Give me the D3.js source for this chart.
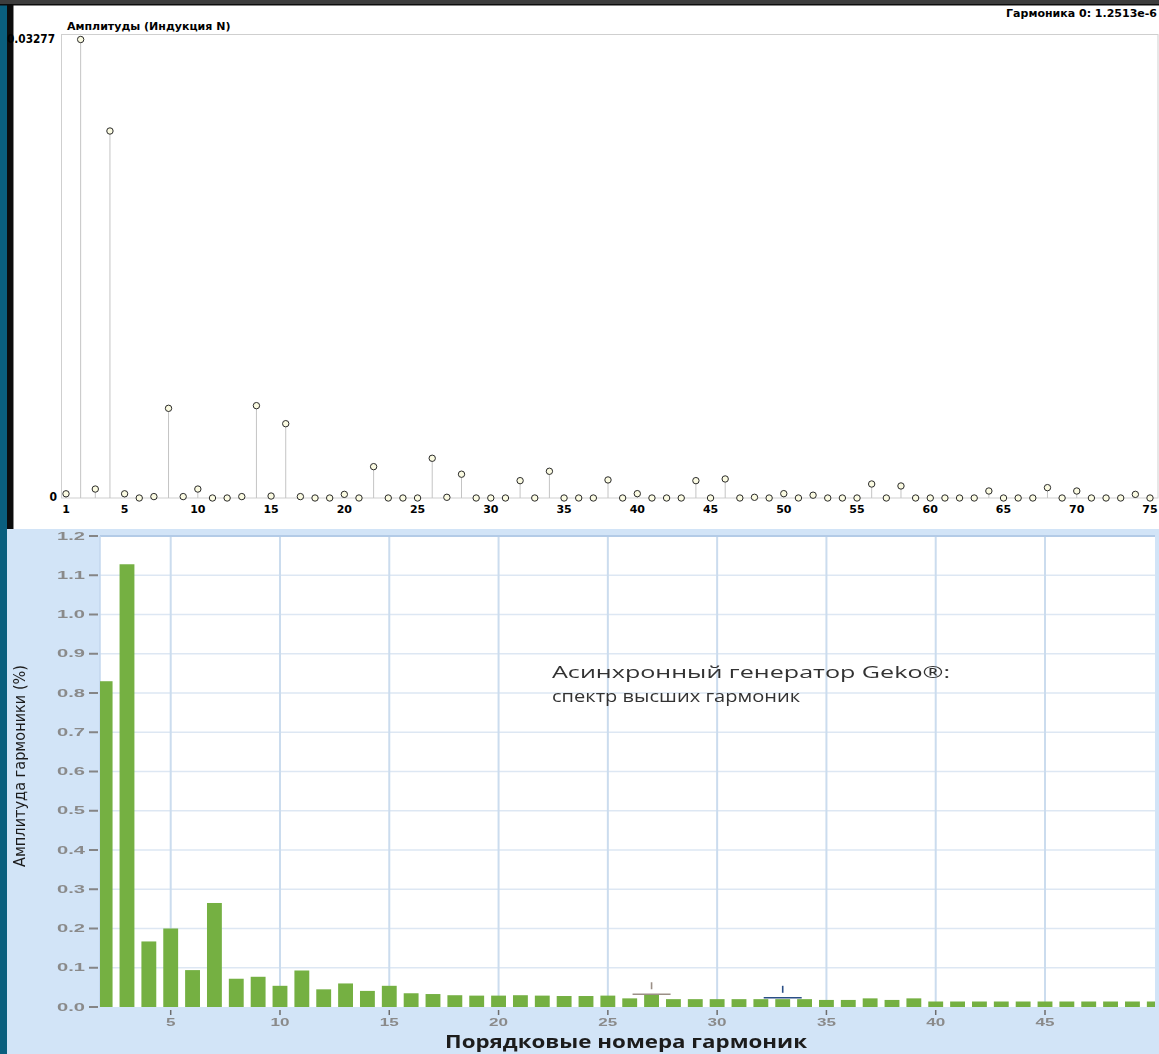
<!DOCTYPE html>
<html>
<head>
<meta charset="utf-8">
<script src="https://cdn.jsdelivr.net/npm/d3@7"></script>
<style>
  html, body { margin: 0; padding: 0; background: #ffffff; }
  svg { display: block; }
</style>
</head>
<body>
<svg id="chart" width="1159" height="1054"></svg>
<script>
// ---- Upper panel: induction harmonic amplitudes, harmonics 1..75 ----
const inductionValues = [
  0.0003, 0.03277, 0.00064, 0.02623, 0.0003, 0, 0.0001, 0.00641, 0.0001, 0.00064,
  0, 0, 0.0001, 0.0066, 0.00014, 0.00531, 0.0001, 0, 0, 0.00026,
  0, 0.00224, 0, 0, 0, 0.00284, 0.00005, 0.0017, 0, 0,
  0, 0.00124, 0, 0.00191, 0, 0, 0, 0.00129, 0, 0.00031,
  0, 0, 0, 0.00124, 0, 0.00136, 0, 0.00005, 0, 0.00031,
  0, 0.0002, 0, 0, 0, 0.001, 0, 0.00086, 0, 0,
  0, 0, 0, 0.0005, 0, 0, 0, 0.00074, 0, 0.0005,
  0, 0, 0, 0.00026, 0
];
const inductionMax = 0.03277;
const inductionTicks = [1, 5, 10, 15, 20, 25, 30, 35, 40, 45, 50, 55, 60, 65, 70, 75];
const upperTitle = "Амплитуды (Индукция N)";
const upperInfo = "Гармоника 0: 1.2513e-6";

// ---- Lower panel: Geko generator harmonic spectrum (%), harmonics 2..50 ----
const spectrumFirstHarmonic = 2;
const spectrumValues = [
  0.83, 1.128, 0.167, 0.2, 0.094, 0.265, 0.072, 0.077, 0.054,
  0.093, 0.045, 0.06, 0.041, 0.054, 0.035, 0.033, 0.03, 0.029, 0.029,
  0.03, 0.029, 0.028, 0.028, 0.029, 0.022, 0.033, 0.02, 0.02, 0.02,
  0.02, 0.02, 0.02, 0.02, 0.018, 0.018, 0.022, 0.018, 0.022, 0.014,
  0.014, 0.014, 0.014, 0.014, 0.014, 0.014, 0.014, 0.014, 0.014, 0.014
];
const spectrumYTicks = [0, 0.1, 0.2, 0.3, 0.4, 0.5, 0.6, 0.7, 0.8, 0.9, 1.0, 1.1, 1.2];
const spectrumXTicks = [5, 10, 15, 20, 25, 30, 35, 40, 45];
const cursorMarks = [
  { harmonic: 27, value: 0.035, color: "#9b8f86" },
  { harmonic: 33, value: 0.026, color: "#2c4f86" }
];
const spectrumNote = ["Асинхронный генератор Geko®:", "спектр высших гармоник"];
const spectrumXTitle = "Порядковые номера гармоник";
const spectrumYTitle = "Амплитуда гармоники (%)";

const svg = d3.select("#chart");
const W = 1159, H = 1054;

svg.append("rect").attr("x", 0).attr("y", 0).attr("width", W).attr("height", H).attr("fill", "#ffffff");

// ---------- upper panel ----------
const up = svg.append("g");
const ux = d3.scaleLinear().domain([1, 75]).range([66, 1150]);
const uy = d3.scaleLinear().domain([0, inductionMax]).range([498, 39.5]);

up.append("rect")
  .attr("x", 61.5).attr("y", 34.5)
  .attr("width", 1158 - 61.5).attr("height", uy(0) - 34.5)
  .attr("fill", "none").attr("stroke", "#cfcfcf").attr("stroke-width", 1);

up.append("text")
  .attr("x", 67).attr("y", 30)
  .attr("font-family", "'DejaVu Sans', sans-serif").attr("font-weight", "bold")
  .attr("font-size", 11).attr("fill", "#000")
  .text(upperTitle);

up.append("text")
  .attr("x", 1157).attr("y", 17).attr("text-anchor", "end")
  .attr("font-family", "'DejaVu Sans', sans-serif").attr("font-weight", "bold")
  .attr("font-size", 11).attr("fill", "#000")
  .text(upperInfo);

up.append("text")
  .attr("x", 57).attr("y", 501).attr("text-anchor", "end")
  .attr("font-family", "'DejaVu Sans Condensed', 'DejaVu Sans', sans-serif").attr("font-weight", "bold")
  .attr("font-size", 12).attr("fill", "#000")
  .text(d3.format("d")(0));

// stems
up.selectAll("line.stem").data(inductionValues).join("line")
  .attr("class", "stem")
  .attr("x1", (d, i) => ux(i + 1)).attr("x2", (d, i) => ux(i + 1))
  .attr("y1", uy(0)).attr("y2", d => uy(d))
  .attr("stroke", "#c4c4c4").attr("stroke-width", 1);

// x tick labels (upper)
up.selectAll("text.utick").data(inductionTicks).join("text")
  .attr("class", "utick")
  .attr("x", d => ux(d)).attr("y", 513).attr("text-anchor", "middle")
  .attr("font-family", "'DejaVu Sans', sans-serif").attr("font-weight", "bold")
  .attr("font-size", 11).attr("fill", "#000")
  .text(d => d);

// markers
up.selectAll("circle.pt").data(inductionValues).join("circle")
  .attr("class", "pt")
  .attr("cx", (d, i) => ux(i + 1)).attr("cy", d => uy(d))
  .attr("r", 3.2)
  .attr("fill", "#fbfbe2").attr("stroke", "#2a2a2a").attr("stroke-width", 1);

// ---------- lower panel ----------
const defs = svg.append("defs");
const blur = defs.append("filter").attr("id", "soft")
  .attr("x", "-5%").attr("y", "-5%").attr("width", "110%").attr("height", "110%");
blur.append("feGaussianBlur").attr("stdDeviation", 0.55);
defs.append("clipPath").attr("id", "plotClip")
  .append("rect").attr("x", 100).attr("y", 530).attr("width", 1155 - 100).attr("height", 1007 - 530);

const lo = svg.append("g").attr("filter", "url(#soft)");
lo.append("rect").attr("x", 7).attr("y", 529).attr("width", W - 7).attr("height", H - 529).attr("fill", "#d2e4f7");

const bx = d3.scaleLinear().domain([5, 45]).range([170.7, 1045]);
const by = d3.scaleLinear().domain([0, 1.2]).range([1007, 536]);
const step = bx(6) - bx(5);
const barW = step * 0.68;

lo.append("rect").attr("x", 100).attr("y", by(1.2))
  .attr("width", 1155 - 100).attr("height", by(0) - by(1.2)).attr("fill", "#ffffff");

// horizontal grid
lo.selectAll("line.hg").data(spectrumYTicks.filter(t => t > 0 && t < 1.2)).join("line")
  .attr("class", "hg")
  .attr("x1", 100).attr("x2", 1155).attr("y1", d => by(d)).attr("y2", d => by(d))
  .attr("stroke", "#dde7f3").attr("stroke-width", 1.6);
// vertical grid
lo.selectAll("line.vg").data(spectrumXTicks).join("line")
  .attr("class", "vg")
  .attr("x1", d => bx(d)).attr("x2", d => bx(d)).attr("y1", by(1.2)).attr("y2", by(0))
  .attr("stroke", "#cbdcee").attr("stroke-width", 2);
// plot border top / left
lo.append("line").attr("x1", 100).attr("x2", 1155).attr("y1", by(1.2)).attr("y2", by(1.2))
  .attr("stroke", "#b3cbe7").attr("stroke-width", 2);
lo.append("line").attr("x1", 100).attr("x2", 100).attr("y1", by(1.2)).attr("y2", by(0))
  .attr("stroke", "#c3d7ee").attr("stroke-width", 1.5);

// bars
lo.append("g").attr("clip-path", "url(#plotClip)")
  .selectAll("rect.bar").data(spectrumValues).join("rect")
  .attr("class", "bar")
  .attr("x", (d, i) => bx(i + spectrumFirstHarmonic) - barW / 2)
  .attr("y", d => by(d))
  .attr("width", barW)
  .attr("height", d => by(0) - by(d))
  .attr("fill", "#74b043");

// cursor crosses
cursorMarks.forEach(m => {
  const cx = bx(m.harmonic), cy = by(m.value);
  lo.append("line").attr("x1", cx - 19).attr("x2", cx + 19).attr("y1", cy + 1).attr("y2", cy + 1)
    .attr("stroke", m.color).attr("stroke-width", 1.6);
  lo.append("line").attr("x1", cx).attr("x2", cx).attr("y1", cy - 11).attr("y2", cy - 4)
    .attr("stroke", m.color).attr("stroke-width", 1.6);
});

// y ticks
lo.selectAll("line.yt").data(spectrumYTicks).join("line")
  .attr("class", "yt")
  .attr("x1", 89).attr("x2", 98).attr("y1", d => by(d)).attr("y2", d => by(d))
  .attr("stroke", "#858585").attr("stroke-width", 2);
lo.selectAll("text.yl").data(spectrumYTicks).join("text")
  .attr("class", "yl")
  .attr("x", 85).attr("y", d => by(d) + 3.5).attr("text-anchor", "end")
  .attr("font-family", "'Liberation Sans', Arial, sans-serif").attr("font-weight", "bold")
  .attr("font-size", 10).attr("fill", "#8a8a8a")
  .attr("textLength", 28).attr("lengthAdjust", "spacingAndGlyphs")
  .text(d => d3.format(".1f")(d));

// x ticks
lo.selectAll("line.xt").data(spectrumXTicks).join("line")
  .attr("class", "xt")
  .attr("x1", d => bx(d)).attr("x2", d => bx(d)).attr("y1", 1010).attr("y2", 1015)
  .attr("stroke", "#6d6d6d").attr("stroke-width", 1.5);
lo.selectAll("text.xl").data(spectrumXTicks).join("text")
  .attr("class", "xl")
  .attr("x", d => bx(d)).attr("y", 1026).attr("text-anchor", "middle")
  .attr("font-family", "'Liberation Sans', Arial, sans-serif").attr("font-weight", "bold")
  .attr("font-size", 10).attr("fill", "#8a8a8a")
  .attr("textLength", d => String(d).length * 9.5).attr("lengthAdjust", "spacingAndGlyphs")
  .text(d => d);

// annotation
lo.append("text").attr("x", 552).attr("y", 678)
  .attr("font-family", "'Open Sans', 'Noto Sans', sans-serif").attr("font-size", 16.5).attr("fill", "#333")
  .attr("textLength", 398).attr("lengthAdjust", "spacingAndGlyphs")
  .text(spectrumNote[0]);
lo.append("text").attr("x", 552).attr("y", 701.5)
  .attr("font-family", "'Open Sans', 'Noto Sans', sans-serif").attr("font-size", 16.5).attr("fill", "#333")
  .attr("textLength", 248).attr("lengthAdjust", "spacingAndGlyphs")
  .text(spectrumNote[1]);

// axis titles
lo.append("text").attr("x", 626).attr("y", 1048).attr("text-anchor", "middle")
  .attr("font-family", "'Open Sans', 'Noto Sans', sans-serif").attr("font-weight", "bold")
  .attr("font-size", 17).attr("fill", "#1e1e1e")
  .attr("textLength", 362).attr("lengthAdjust", "spacingAndGlyphs")
  .text(spectrumXTitle);
lo.append("text")
  .attr("transform", "translate(25,766) rotate(-90)").attr("text-anchor", "middle")
  .attr("font-family", "'Liberation Sans Narrow', 'DejaVu Sans Condensed', sans-serif")
  .attr("font-size", 15.5).attr("fill", "#1e1e1e")
  .attr("textLength", 202).attr("lengthAdjust", "spacingAndGlyphs")
  .text(spectrumYTitle);

// ---------- window edges ----------
svg.append("rect").attr("x", 0).attr("y", 0).attr("width", 7).attr("height", H).attr("fill", "#0a5f7e");
svg.append("rect").attr("x", 7).attr("y", 4).attr("width", 6).attr("height", 525).attr("fill", "#0c0c0c");
svg.append("line").attr("x1", 13.5).attr("x2", 13.5).attr("y1", 5).attr("y2", 529).attr("stroke", "#8a8a8a");
svg.append("rect").attr("x", 0).attr("y", 0).attr("width", W).attr("height", 4).attr("fill", "#3d3d3d");
svg.append("rect").attr("x", 0).attr("y", 4).attr("width", W).attr("height", 1.5).attr("fill", "#0c0c0c");

// y-axis maximum label of the upper panel, drawn over the window edge
svg.append("text")
  .attr("x", 55).attr("y", 43).attr("text-anchor", "end")
  .attr("font-family", "'DejaVu Sans Condensed', 'DejaVu Sans', sans-serif").attr("font-weight", "bold")
  .attr("font-size", 13).attr("fill", "#000")
  .attr("textLength", 48).attr("lengthAdjust", "spacingAndGlyphs")
  .text(d3.format(".5f")(inductionMax));
</script>
</body>
</html>
